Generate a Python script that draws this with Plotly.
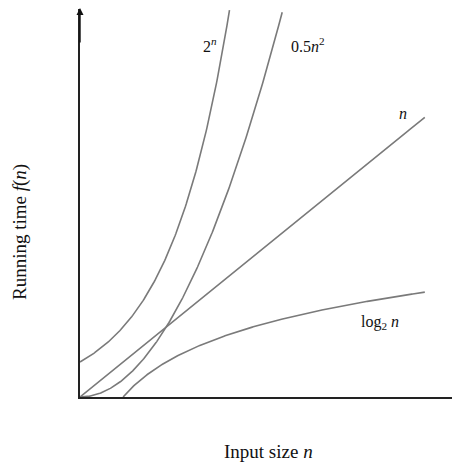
import numpy as np
import plotly.graph_objects as go

# Data
n_max = 8.0
n_vals = np.linspace(0, n_max, 400)
n_log = np.linspace(1, n_max, 300)
y_top = 11.1

curve_names = ["2^n", "0.5n^2", "n", "log2 n"]
label_texts = ["2<sup><i>n</i></sup>", "0.5<i>n</i><sup>2</sup>", "<i>n</i>", "log<sub>2</sub> <i>n</i>"]
label_x = [3.02, 5.29, 7.49, 6.95]
label_y = [10.06, 10.06, 8.1, 2.13]

def clip(x, y):
    m = y <= y_top
    return x[m], y[m]

series = [
    clip(n_vals, 2.0 ** n_vals),
    clip(n_vals, 0.5 * n_vals ** 2),
    (n_vals, n_vals),
    (n_log, np.log2(n_log)),
]

# page offset (browser body margin) compensation
OFF = 8
W, H = 460 - OFF, 466 - OFF
X0, Y0 = 80, 397          # origin in window pixels
left = X0 - OFF
top = 9 - OFF
bottom = 466 - Y0
plot_w = 460 - X0
plot_h = Y0 - 9
xpx = 43.1
xr = plot_w / xpx

def px(x):
    return (x - X0) / plot_w

def py(y):
    return (Y0 - y) / plot_h

fig = go.Figure()
for (x, y), name in zip(series, curve_names):
    fig.add_trace(go.Scatter(x=x, y=y, mode="lines", name=name,
                             line=dict(color="#7a7a7a", width=1.6),
                             hoverinfo="skip", cliponaxis=False))

serif = "Liberation Serif, Times New Roman, serif"
font = dict(family=serif, size=16, color="#111")
for t, x, y in zip(label_texts, label_x, label_y):
    fig.add_annotation(x=x, y=y, xref="x", yref="y", text=t, showarrow=False, font=font)

# y-axis arrow
fig.add_annotation(x=0, y=y_top + 0.03, xref="x", yref="y", ax=0, ay=y_top - 1, axref="x", ayref="y",
                   text="", showarrow=True, arrowhead=2, arrowsize=1, arrowwidth=1.4, arrowcolor="#111")

# axis titles
fig.add_annotation(x=px(268), y=py(451), xref="paper", yref="paper", text="Input size <i>n</i>",
                   xanchor="center", yanchor="middle", showarrow=False,
                   font=dict(family=serif, size=19, color="#111"))
fig.add_annotation(x=px(20), y=py(232), xref="paper", yref="paper", text="Running time <i>f</i>(<i>n</i>)",
                   xanchor="center", yanchor="middle", textangle=-90, showarrow=False,
                   font=dict(family=serif, size=19, color="#111"))

fig.update_layout(
    width=W, height=H,
    margin=dict(l=left, r=0, t=top, b=bottom, pad=0),
    paper_bgcolor="white", plot_bgcolor="white",
    showlegend=False,
    xaxis=dict(range=[0, xr], showgrid=False, zeroline=False, showticklabels=False, ticks="",
               showline=True, linecolor="#222", linewidth=1.6),
    yaxis=dict(range=[0, y_top], showgrid=False, zeroline=False, showticklabels=False, ticks="",
               showline=True, linecolor="#222", linewidth=1.6),
)

fig.write_html("out.html")
